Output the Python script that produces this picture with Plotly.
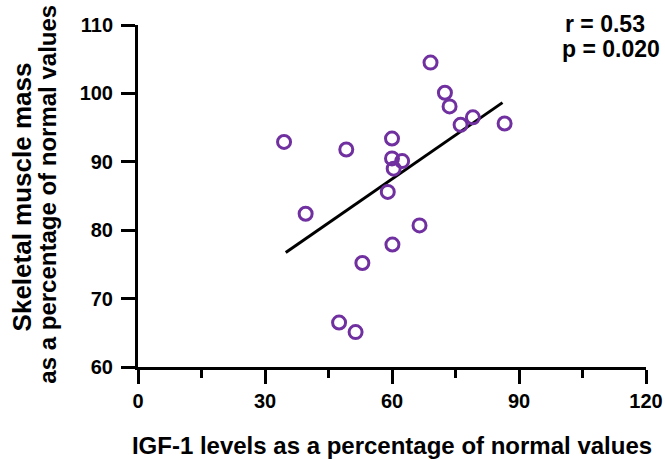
import plotly.graph_objects as go

# Data
igf1_pct = [34.5, 49.2, 60.0, 60.0, 62.4, 60.4, 59.0, 39.6, 66.5, 60.1,
            53.0, 47.5, 51.4, 69.1, 72.5, 73.6, 76.2, 79.1, 86.6]
muscle_pct = [92.9, 91.8, 93.4, 90.5, 90.1, 89.0, 85.6, 82.4, 80.7, 77.9,
              75.2, 66.5, 65.1, 104.5, 100.1, 98.1, 95.4, 96.5, 95.6]
fit_x = [34.9, 86.1]
fit_y = [76.75, 98.65]
x_ticks = [0, 30, 60, 90, 120]
x_minor_ticks = [15, 45, 75, 105]
y_ticks = [60, 70, 80, 90, 100, 110]
x_title = "IGF-1 levels as a percentage of normal values"
y_title_lines = ["Skeletal muscle mass", "as a percentage of normal values"]
stats_lines = ["r = 0.53", "p = 0.020"]

FONT = "Liberation Sans, Arial, sans-serif"
PURPLE = "#7030A0"

fig = go.Figure()
fig.add_trace(go.Scatter(
    x=fit_x, y=fit_y, mode="lines",
    line=dict(color="black", width=3), showlegend=False, hoverinfo="skip"))
fig.add_trace(go.Scatter(
    x=igf1_pct, y=muscle_pct, mode="markers",
    marker=dict(symbol="circle-open", size=13, color=PURPLE,
                line=dict(color=PURPLE, width=3)),
    showlegend=False))

annotations = [
    dict(text=y_title_lines[0], xref="paper", yref="paper", x=-0.2276, y=0.497,
         xanchor="center", yanchor="middle", textangle=-90, showarrow=False,
         font=dict(size=26, family=FONT, weight="bold", color="black")),
    dict(text=y_title_lines[1], xref="paper", yref="paper", x=-0.1784, y=0.505,
         xanchor="center", yanchor="middle", textangle=-90, showarrow=False,
         font=dict(size=24, family=FONT, weight="bold", color="black")),
    dict(text=stats_lines[0], xref="paper", yref="paper", x=0.8367, y=1.003,
         xanchor="left", yanchor="middle", showarrow=False,
         font=dict(size=23, family=FONT, weight="bold", color="black")),
    dict(text=stats_lines[1], xref="paper", yref="paper", x=0.8308, y=0.930,
         xanchor="left", yanchor="middle", showarrow=False,
         font=dict(size=23, family=FONT, weight="bold", color="black")),
]

fig.update_layout(
    width=665, height=460,
    margin=dict(l=138, r=19, t=25, b=93),
    paper_bgcolor="white", plot_bgcolor="white",
    font=dict(family=FONT, size=20, color="black", weight="bold"),
    xaxis=dict(
        range=[0, 120], tickvals=x_ticks, ticks="outside", ticklen=14,
        tickwidth=3, tickcolor="black", showline=True, linewidth=3,
        linecolor="black", showgrid=False, zeroline=False, automargin=False,
        tickfont=dict(size=20, family=FONT, weight="bold"),
        minor=dict(tickvals=x_minor_ticks, ticks="outside", ticklen=8,
                   tickwidth=3, tickcolor="black", showgrid=False),
        title=dict(text=x_title,
                   font=dict(size=24, family=FONT, weight="bold"), standoff=27),
    ),
    yaxis=dict(
        range=[60, 110], tickvals=y_ticks, ticks="outside", ticklen=14,
        tickwidth=3, tickcolor="black", showline=True, linewidth=3,
        linecolor="black", showgrid=False, zeroline=False, automargin=False,
        ticklabelstandoff=4,
        tickfont=dict(size=20, family=FONT, weight="bold"),
    ),
    annotations=annotations,
)

fig.write_html("out.html")
